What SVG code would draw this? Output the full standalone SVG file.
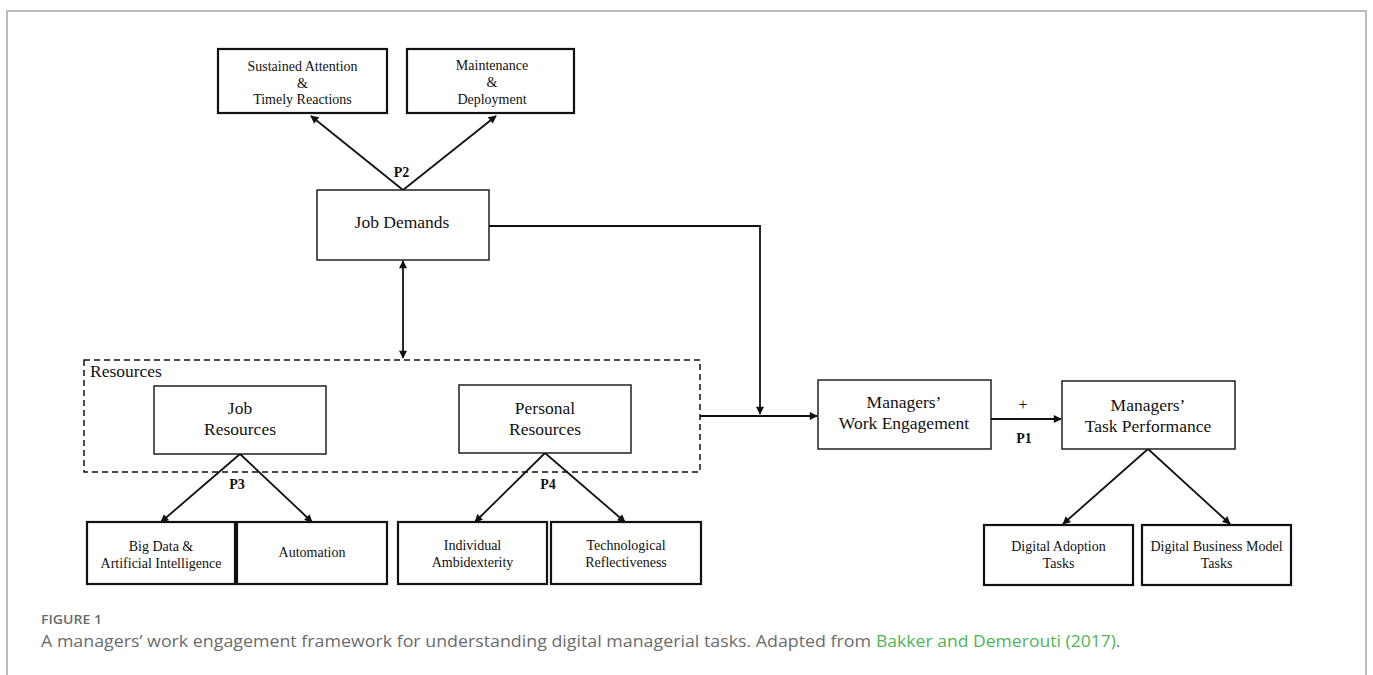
<svg xmlns="http://www.w3.org/2000/svg" width="1373" height="675" viewBox="0 0 1373 675">
<style>
  .bx { fill: #fff; stroke: #111; stroke-width: 2.2; }
  .bm { fill: #fff; stroke: #111; stroke-width: 1.4; }
  .t14 { font-family: "Liberation Serif", "Times New Roman", serif; font-size: 14px; fill: #111; text-anchor: middle; }
  .t17 { font-family: "Liberation Serif", "Times New Roman", serif; font-size: 17.5px; fill: #111; text-anchor: middle; }
  .lbl { font-family: "Liberation Serif", "Times New Roman", serif; font-size: 14px; font-weight: bold; fill: #111; text-anchor: middle; }
  .cn { fill: none; stroke: #111; stroke-width: 1.8; }
  .cap { font-family: "Open Sans", "Noto Sans", sans-serif; font-size: 15.5px; fill: #6b6b6b; }
</style>
<defs>
  <marker id="ah" viewBox="0 0 10 10" refX="9" refY="5" markerWidth="9" markerHeight="8" markerUnits="userSpaceOnUse" orient="auto-start-reverse">
    <path d="M0,0 L10,5 L0,10 z" fill="#111"/>
  </marker>
</defs>
<rect width="1373" height="675" fill="#fff"/>
<path d="M7,675 V11 H1366 V675" fill="none" stroke="#bcbcbc" stroke-width="2"/>

<g id="connectors">
  <path class="cn" d="M403,190 L311,116" marker-end="url(#ah)"/>
  <path class="cn" d="M403,190 L496,116" marker-end="url(#ah)"/>
  <path class="cn" d="M403,261 V358" marker-start="url(#ah)" marker-end="url(#ah)"/>
  <path class="cn" d="M489,226 H760 V414" marker-end="url(#ah)"/>
  <path class="cn" d="M700,416 H817" marker-end="url(#ah)"/>
  <path class="cn" d="M991,419 H1061" marker-end="url(#ah)"/>
  <path class="cn" d="M240,454 L161,522" marker-end="url(#ah)"/>
  <path class="cn" d="M240,454 L312,522" marker-end="url(#ah)"/>
  <path class="cn" d="M545,453 L475,522" marker-end="url(#ah)"/>
  <path class="cn" d="M545,453 L625,522" marker-end="url(#ah)"/>
  <path class="cn" d="M1148,449 L1063,524" marker-end="url(#ah)"/>
  <path class="cn" d="M1148,449 L1230,524" marker-end="url(#ah)"/>
  <text class="lbl" x="401.5" y="177">P2</text>
  <text class="lbl" x="237" y="489">P3</text>
  <text class="lbl" x="548" y="489">P4</text>
  <text class="lbl" x="1024" y="443">P1</text>
  <text class="t14" x="1023" y="410" style="font-size:16px">+</text>
</g>

<g id="sustained-attention">
  <rect class="bx" x="218" y="49" width="169" height="64"/>
  <text class="t14" x="302.5" y="71">Sustained Attention</text>
  <text class="t14" x="302.5" y="88">&amp;</text>
  <text class="t14" x="302.5" y="104">Timely Reactions</text>
</g>
<g id="maintenance">
  <rect class="bx" x="407" y="49" width="167" height="64"/>
  <text class="t14" x="492" y="69.5">Maintenance</text>
  <text class="t14" x="492" y="87">&amp;</text>
  <text class="t14" x="492" y="104">Deployment</text>
</g>
<g id="job-demands">
  <rect class="bm" x="317" y="190" width="172" height="70"/>
  <text class="t17" x="402" y="228">Job Demands</text>
</g>
<g id="resources">
  <rect x="84" y="360" width="616" height="112" fill="none" stroke="#111" stroke-width="1.5" stroke-dasharray="6,4"/>
  <text class="t17" x="90" y="377" style="text-anchor:start">Resources</text>
</g>
<g id="job-resources">
  <rect class="bm" x="154" y="386" width="172" height="68"/>
  <text class="t17" x="240" y="414">Job</text>
  <text class="t17" x="240" y="435">Resources</text>
</g>
<g id="personal-resources">
  <rect class="bm" x="459" y="385" width="172" height="68"/>
  <text class="t17" x="545" y="414">Personal</text>
  <text class="t17" x="545" y="435">Resources</text>
</g>
<g id="work-engagement">
  <rect class="bm" x="818" y="380" width="173" height="69"/>
  <text class="t17" x="904" y="408">Managers’</text>
  <text class="t17" x="904" y="429">Work Engagement</text>
</g>
<g id="task-performance">
  <rect class="bm" x="1062" y="381" width="173" height="68"/>
  <text class="t17" x="1148" y="411">Managers’</text>
  <text class="t17" x="1148" y="432">Task Performance</text>
</g>
<g id="big-data">
  <rect class="bx" x="87" y="522" width="148" height="62"/>
  <text class="t14" x="161" y="551">Big Data &amp;</text>
  <text class="t14" x="161" y="568">Artificial Intelligence</text>
</g>
<g id="automation">
  <rect class="bx" x="237" y="522" width="150" height="62"/>
  <text class="t14" x="312" y="557">Automation</text>
</g>
<g id="individual-ambidexterity">
  <rect class="bx" x="398" y="522" width="149" height="62"/>
  <text class="t14" x="472.5" y="550">Individual</text>
  <text class="t14" x="472.5" y="567">Ambidexterity</text>
</g>
<g id="technological-reflectiveness">
  <rect class="bx" x="551" y="522" width="150" height="62"/>
  <text class="t14" x="626" y="550">Technological</text>
  <text class="t14" x="626" y="567">Reflectiveness</text>
</g>
<g id="digital-adoption">
  <rect class="bx" x="984" y="525" width="149" height="60"/>
  <text class="t14" x="1058.5" y="551">Digital Adoption</text>
  <text class="t14" x="1058.5" y="568">Tasks</text>
</g>
<g id="digital-business-model">
  <rect class="bx" x="1142" y="525" width="149" height="60"/>
  <text class="t14" x="1216.5" y="551">Digital Business Model</text>
  <text class="t14" x="1216.5" y="568">Tasks</text>
</g>

<g id="caption">
  <text x="41" y="624" textLength="61" lengthAdjust="spacingAndGlyphs" style="font-family:'Open Sans','Noto Sans',sans-serif;font-size:13px;font-weight:600;fill:#6b6b6b">FIGURE 1</text>
  <text class="cap" x="41" y="647" textLength="830" lengthAdjust="spacingAndGlyphs">A managers’ work engagement framework for understanding digital managerial tasks. Adapted from</text>
  <text class="cap" x="876" y="647" textLength="240" lengthAdjust="spacingAndGlyphs" style="fill:#4fb457">Bakker and Demerouti (2017)</text>
  <text class="cap" x="1116" y="647">.</text>
</g>
</svg>
